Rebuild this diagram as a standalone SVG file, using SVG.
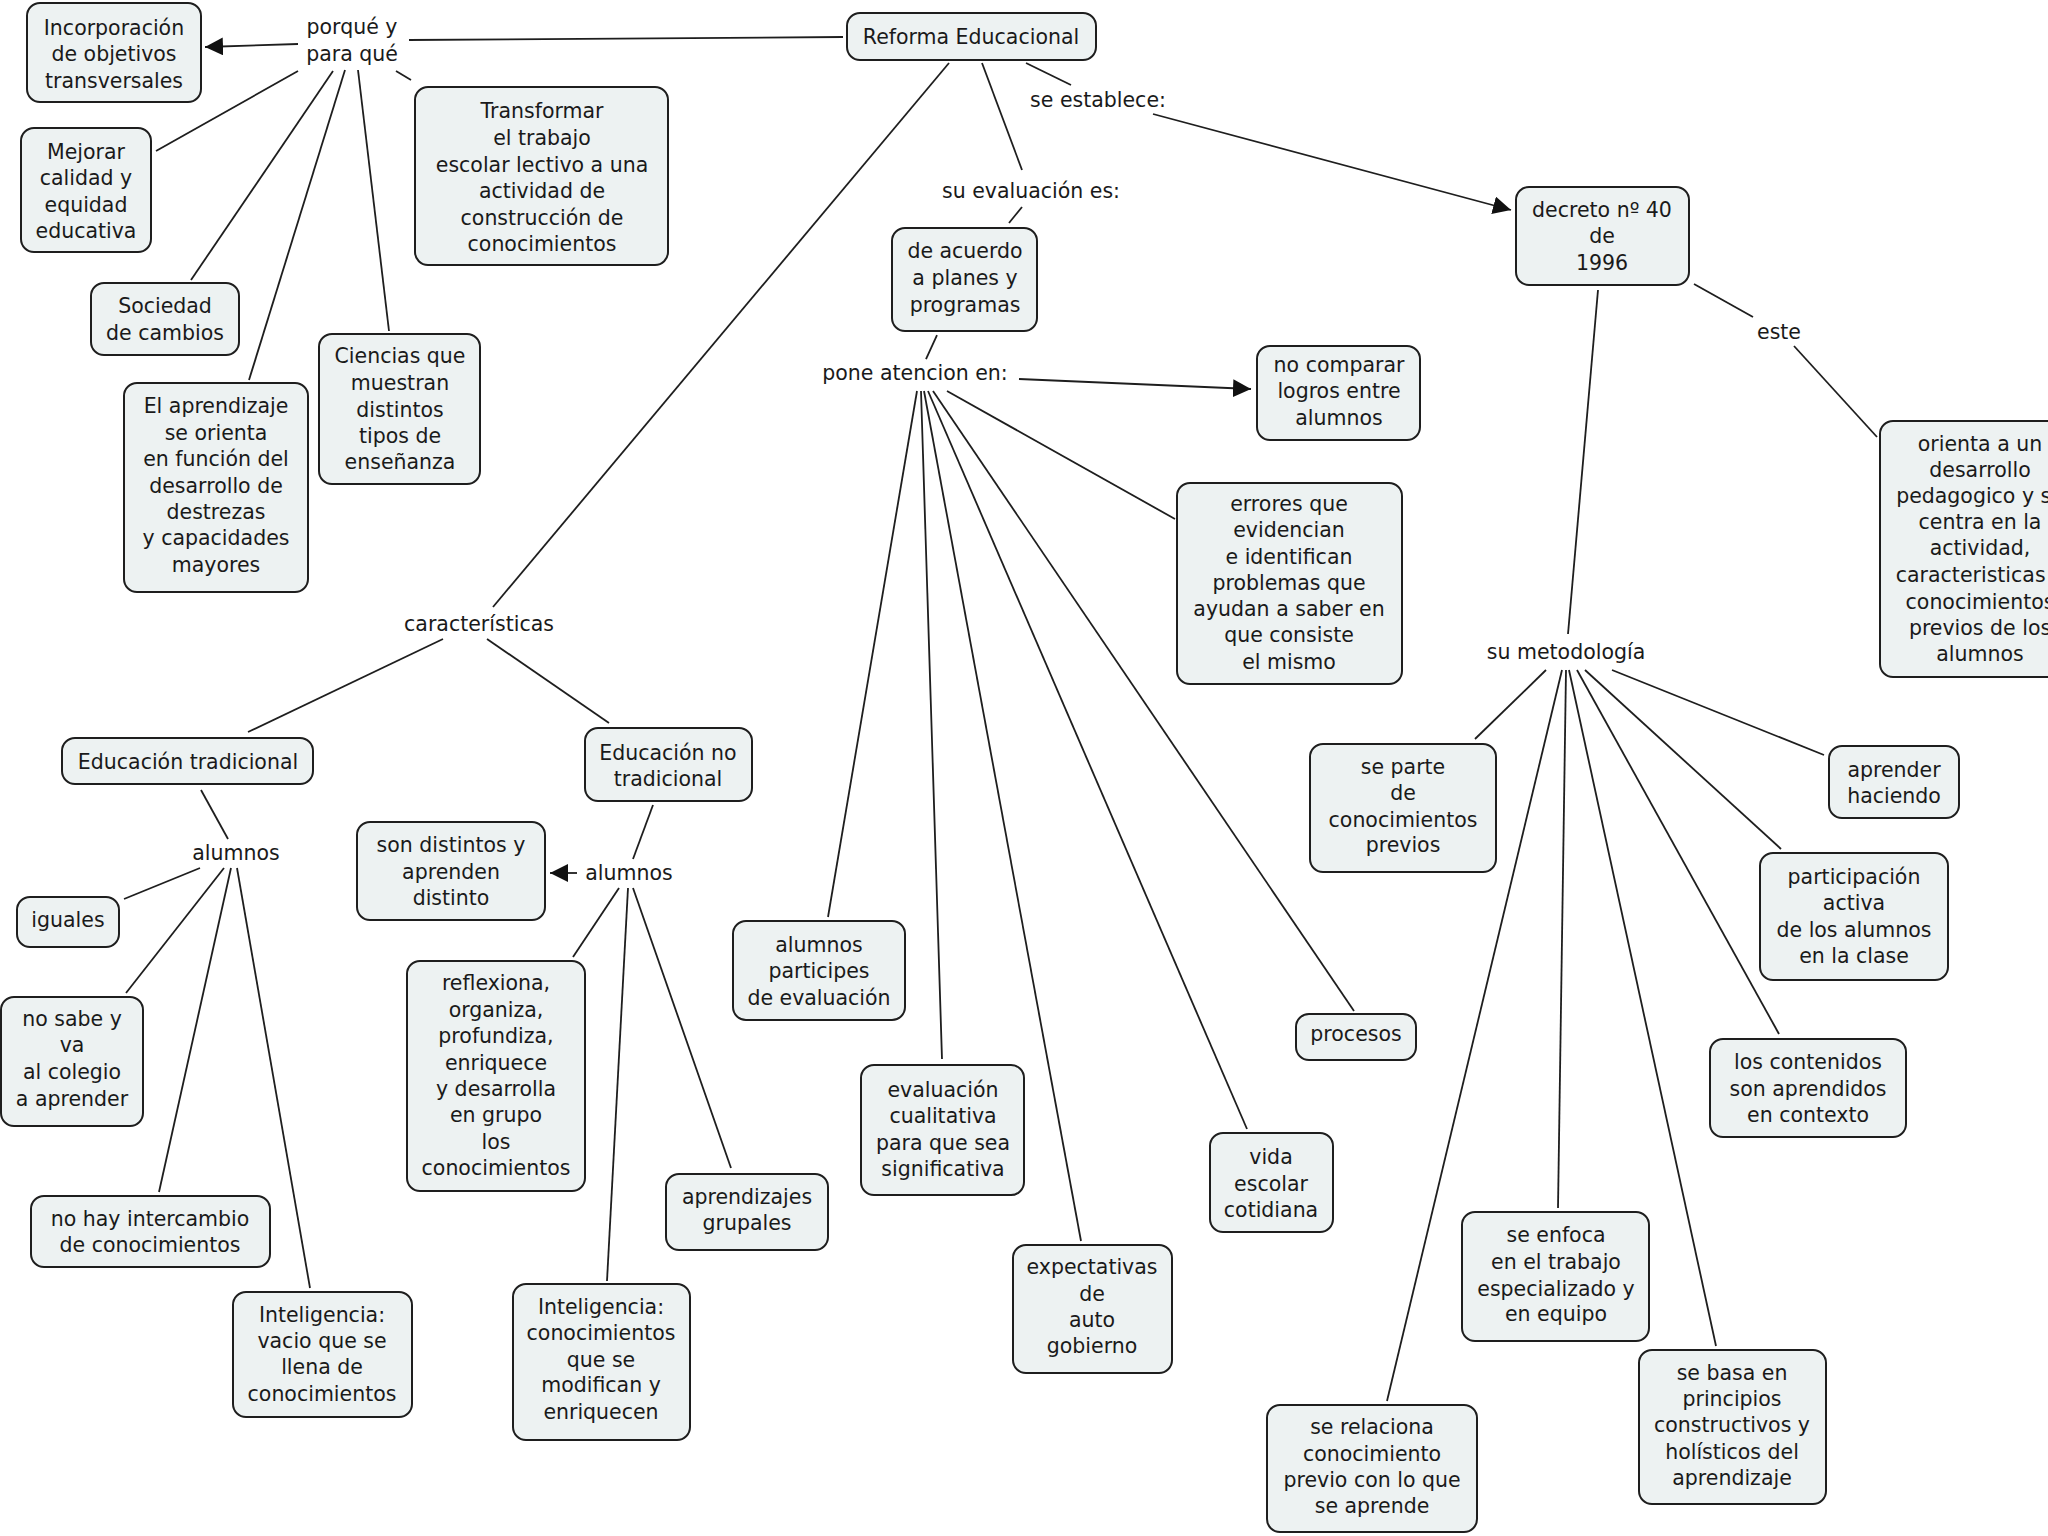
<svg xmlns="http://www.w3.org/2000/svg" width="2048" height="1536" viewBox="0 0 2048 1536">
<style>
.n rect{fill:#edf2f2;stroke:#1e1e1e;stroke-width:2}
text{font-family:"DejaVu Sans","Liberation Sans",sans-serif;font-size:20.5px;fill:#1a1a1a;text-anchor:middle}
.c line{stroke:#1e1e1e;stroke-width:1.8}
</style>
<defs>
<marker id="ah" markerUnits="userSpaceOnUse" markerWidth="18" markerHeight="18" refX="18" refY="9" orient="auto"><path d="M0,0 L18,9 L0,18 z" fill="#111"/></marker>
</defs>
<rect width="2048" height="1536" fill="#fff"/>
<g class="c" id="connectors">
<line x1="843" y1="37" x2="409" y2="40"/>
<line x1="298" y1="44" x2="205" y2="47" marker-end="url(#ah)"/>
<line x1="298" y1="71" x2="156" y2="151"/>
<line x1="333" y1="71" x2="191" y2="280"/>
<line x1="345" y1="70" x2="249" y2="380"/>
<line x1="358" y1="70" x2="389" y2="331"/>
<line x1="396" y1="71" x2="411" y2="80"/>
<line x1="949" y1="63" x2="493" y2="607"/>
<line x1="982" y1="63" x2="1022" y2="170"/>
<line x1="1026" y1="63" x2="1071" y2="85"/>
<line x1="1153" y1="114" x2="1511" y2="210" marker-end="url(#ah)"/>
<line x1="1022" y1="207" x2="1009" y2="223"/>
<line x1="937" y1="335" x2="926" y2="359"/>
<line x1="1019" y1="379" x2="1251" y2="389" marker-end="url(#ah)"/>
<line x1="947" y1="391" x2="1175" y2="519"/>
<line x1="917" y1="391" x2="828" y2="917"/>
<line x1="921" y1="391" x2="942" y2="1059"/>
<line x1="924" y1="391" x2="1081" y2="1241"/>
<line x1="928" y1="391" x2="1247" y2="1129"/>
<line x1="933" y1="391" x2="1354" y2="1011"/>
<line x1="1598" y1="290" x2="1568" y2="634"/>
<line x1="1694" y1="284" x2="1753" y2="317"/>
<line x1="1794" y1="346" x2="1877" y2="437"/>
<line x1="1546" y1="670" x2="1475" y2="739"/>
<line x1="1612" y1="670" x2="1824" y2="755"/>
<line x1="1585" y1="670" x2="1781" y2="849"/>
<line x1="1577" y1="670" x2="1779" y2="1034"/>
<line x1="1569" y1="670" x2="1716" y2="1346"/>
<line x1="1566" y1="670" x2="1558" y2="1208"/>
<line x1="1562" y1="670" x2="1387" y2="1401"/>
<line x1="443" y1="639" x2="248" y2="732"/>
<line x1="487" y1="639" x2="609" y2="723"/>
<line x1="201" y1="790" x2="228" y2="839"/>
<line x1="200" y1="868" x2="124" y2="899"/>
<line x1="224" y1="868" x2="126" y2="993"/>
<line x1="231" y1="868" x2="159" y2="1192"/>
<line x1="237" y1="868" x2="310" y2="1288"/>
<line x1="653" y1="805" x2="633" y2="859"/>
<line x1="577" y1="873" x2="550" y2="873" marker-end="url(#ah)"/>
<line x1="619" y1="888" x2="573" y2="957"/>
<line x1="628" y1="888" x2="607" y2="1281"/>
<line x1="633" y1="888" x2="731" y2="1168"/>
</g>
<g id="lbl-porque"><text><tspan x="352" y="34">porqué y</tspan><tspan x="352" y="61">para qué</tspan></text></g>
<g id="lbl-seestablece"><text x="1098" y="107">se establece:</text></g>
<g id="lbl-evaluacion"><text x="1031" y="198">su evaluación es:</text></g>
<g id="lbl-pone"><text x="915" y="380">pone atencion en:</text></g>
<g id="lbl-este"><text x="1779" y="339">este</text></g>
<g id="lbl-metodologia"><text x="1566" y="659">su metodología</text></g>
<g id="lbl-caracteristicas"><text x="479" y="631">características</text></g>
<g id="lbl-alumnos1"><text x="236" y="860">alumnos</text></g>
<g id="lbl-alumnos2"><text x="629" y="880">alumnos</text></g>

<g class="n" id="n-incorporacion"><rect x="27" y="3" width="174" height="99" rx="13"/><text><tspan x="114" y="35">Incorporación</tspan><tspan x="114" y="61">de objetivos</tspan><tspan x="114" y="88">transversales</tspan></text></g>
<g class="n" id="n-reforma"><rect x="847" y="13" width="249" height="47" rx="13"/><text x="971" y="44">Reforma Educacional</text></g>
<g class="n" id="n-mejorar"><rect x="21" y="128" width="130" height="124" rx="13"/><text><tspan x="86" y="159">Mejorar</tspan><tspan x="86" y="185">calidad y</tspan><tspan x="86" y="212">equidad</tspan><tspan x="86" y="238">educativa</tspan></text></g>
<g class="n" id="n-sociedad"><rect x="91" y="283" width="148" height="72" rx="13"/><text><tspan x="165" y="313">Sociedad</tspan><tspan x="165" y="340">de cambios</tspan></text></g>
<g class="n" id="n-ciencias"><rect x="319" y="334" width="161" height="150" rx="13"/><text><tspan x="400" y="363">Ciencias que</tspan><tspan x="400" y="390">muestran</tspan><tspan x="400" y="417">distintos</tspan><tspan x="400" y="443">tipos de</tspan><tspan x="400" y="469">enseñanza</tspan></text></g>
<g class="n" id="n-aprendizaje"><rect x="124" y="383" width="184" height="209" rx="13"/><text><tspan x="216" y="413">El aprendizaje</tspan><tspan x="216" y="440">se orienta</tspan><tspan x="216" y="466">en función del</tspan><tspan x="216" y="493">desarrollo de</tspan><tspan x="216" y="519">destrezas</tspan><tspan x="216" y="545">y capacidades</tspan><tspan x="216" y="572">mayores</tspan></text></g>
<g class="n" id="n-transformar"><rect x="415" y="87" width="253" height="178" rx="13"/><text><tspan x="542" y="118">Transformar</tspan><tspan x="542" y="145">el trabajo</tspan><tspan x="542" y="172">escolar lectivo a una</tspan><tspan x="542" y="198">actividad de</tspan><tspan x="542" y="225">construcción de</tspan><tspan x="542" y="251">conocimientos</tspan></text></g>
<g class="n" id="n-deacuerdo"><rect x="892" y="228" width="145" height="103" rx="13"/><text><tspan x="965" y="258">de acuerdo</tspan><tspan x="965" y="285">a planes y</tspan><tspan x="965" y="312">programas</tspan></text></g>
<g class="n" id="n-nocomparar"><rect x="1257" y="346" width="163" height="94" rx="13"/><text><tspan x="1339" y="372">no comparar</tspan><tspan x="1339" y="398">logros entre</tspan><tspan x="1339" y="425">alumnos</tspan></text></g>
<g class="n" id="n-errores"><rect x="1177" y="483" width="225" height="201" rx="13"/><text><tspan x="1289" y="511">errores que</tspan><tspan x="1289" y="537">evidencian</tspan><tspan x="1289" y="564">e identifican</tspan><tspan x="1289" y="590">problemas que</tspan><tspan x="1289" y="616">ayudan a saber en</tspan><tspan x="1289" y="642">que consiste</tspan><tspan x="1289" y="669">el mismo</tspan></text></g>
<g class="n" id="n-decreto"><rect x="1516" y="187" width="173" height="98" rx="13"/><text><tspan x="1602" y="217">decreto nº 40</tspan><tspan x="1602" y="243">de</tspan><tspan x="1602" y="270">1996</tspan></text></g>
<g class="n" id="n-orienta"><rect x="1880" y="421" width="200" height="256" rx="13"/><text><tspan x="1980" y="451">orienta a un</tspan><tspan x="1980" y="477">desarrollo</tspan><tspan x="1980" y="503">pedagogico y se</tspan><tspan x="1980" y="529">centra en la</tspan><tspan x="1980" y="555">actividad,</tspan><tspan x="1980" y="582">caracteristicas y</tspan><tspan x="1980" y="609">conocimientos</tspan><tspan x="1980" y="635">previos de los</tspan><tspan x="1980" y="661">alumnos</tspan></text></g>
<g class="n" id="n-separte"><rect x="1310" y="744" width="186" height="128" rx="13"/><text><tspan x="1403" y="774">se parte</tspan><tspan x="1403" y="800">de</tspan><tspan x="1403" y="827">conocimientos</tspan><tspan x="1403" y="852">previos</tspan></text></g>
<g class="n" id="n-aprender"><rect x="1829" y="746" width="130" height="72" rx="13"/><text><tspan x="1894" y="777">aprender</tspan><tspan x="1894" y="803">haciendo</tspan></text></g>
<g class="n" id="n-participacion"><rect x="1760" y="853" width="188" height="127" rx="13"/><text><tspan x="1854" y="884">participación</tspan><tspan x="1854" y="910">activa</tspan><tspan x="1854" y="937">de los alumnos</tspan><tspan x="1854" y="963">en la clase</tspan></text></g>
<g class="n" id="n-contenidos"><rect x="1710" y="1039" width="196" height="98" rx="13"/><text><tspan x="1808" y="1069">los contenidos</tspan><tspan x="1808" y="1096">son aprendidos</tspan><tspan x="1808" y="1122">en contexto</tspan></text></g>
<g class="n" id="n-enfoca"><rect x="1462" y="1212" width="187" height="129" rx="13"/><text><tspan x="1556" y="1242">se enfoca</tspan><tspan x="1556" y="1269">en el trabajo</tspan><tspan x="1556" y="1296">especializado y</tspan><tspan x="1556" y="1321">en equipo</tspan></text></g>
<g class="n" id="n-basa"><rect x="1639" y="1350" width="187" height="154" rx="13"/><text><tspan x="1732" y="1380">se basa en</tspan><tspan x="1732" y="1406">principios</tspan><tspan x="1732" y="1432">constructivos y</tspan><tspan x="1732" y="1459">holísticos del</tspan><tspan x="1732" y="1485">aprendizaje</tspan></text></g>
<g class="n" id="n-relaciona"><rect x="1267" y="1405" width="210" height="127" rx="13"/><text><tspan x="1372" y="1434">se relaciona</tspan><tspan x="1372" y="1461">conocimiento</tspan><tspan x="1372" y="1487">previo con lo que</tspan><tspan x="1372" y="1513">se aprende</tspan></text></g>
<g class="n" id="n-participes"><rect x="733" y="921" width="172" height="99" rx="13"/><text><tspan x="819" y="952">alumnos</tspan><tspan x="819" y="978">participes</tspan><tspan x="819" y="1005">de evaluación</tspan></text></g>
<g class="n" id="n-cualitativa"><rect x="861" y="1065" width="163" height="130" rx="13"/><text><tspan x="943" y="1097">evaluación</tspan><tspan x="943" y="1123">cualitativa</tspan><tspan x="943" y="1150">para que sea</tspan><tspan x="943" y="1176">significativa</tspan></text></g>
<g class="n" id="n-expectativas"><rect x="1013" y="1245" width="159" height="128" rx="13"/><text><tspan x="1092" y="1274">expectativas</tspan><tspan x="1092" y="1301">de</tspan><tspan x="1092" y="1327">auto</tspan><tspan x="1092" y="1353">gobierno</tspan></text></g>
<g class="n" id="n-vida"><rect x="1210" y="1133" width="123" height="99" rx="13"/><text><tspan x="1271" y="1164">vida</tspan><tspan x="1271" y="1191">escolar</tspan><tspan x="1271" y="1217">cotidiana</tspan></text></g>
<g class="n" id="n-procesos"><rect x="1296" y="1014" width="120" height="46" rx="13"/><text x="1356" y="1041">procesos</text></g>
<g class="n" id="n-edtradicional"><rect x="62" y="738" width="251" height="46" rx="13"/><text x="188" y="769">Educación tradicional</text></g>
<g class="n" id="n-iguales"><rect x="17" y="897" width="102" height="50" rx="13"/><text x="68" y="927">iguales</text></g>
<g class="n" id="n-nosabe"><rect x="1" y="997" width="142" height="129" rx="13"/><text><tspan x="72" y="1026">no sabe y</tspan><tspan x="72" y="1052">va</tspan><tspan x="72" y="1079">al colegio</tspan><tspan x="72" y="1106">a aprender</tspan></text></g>
<g class="n" id="n-nohay"><rect x="31" y="1196" width="239" height="71" rx="13"/><text><tspan x="150" y="1226">no hay intercambio</tspan><tspan x="150" y="1252">de conocimientos</tspan></text></g>
<g class="n" id="n-intvacio"><rect x="233" y="1292" width="179" height="125" rx="13"/><text><tspan x="322" y="1322">Inteligencia:</tspan><tspan x="322" y="1348">vacio que se</tspan><tspan x="322" y="1374">llena de</tspan><tspan x="322" y="1401">conocimientos</tspan></text></g>
<g class="n" id="n-ednotradicional"><rect x="585" y="728" width="167" height="73" rx="13"/><text><tspan x="668" y="760">Educación no</tspan><tspan x="668" y="786">tradicional</tspan></text></g>
<g class="n" id="n-sondistintos"><rect x="357" y="822" width="188" height="98" rx="13"/><text><tspan x="451" y="852">son distintos y</tspan><tspan x="451" y="879">aprenden</tspan><tspan x="451" y="905">distinto</tspan></text></g>
<g class="n" id="n-reflexiona"><rect x="407" y="961" width="178" height="230" rx="13"/><text><tspan x="496" y="990">reflexiona,</tspan><tspan x="496" y="1017">organiza,</tspan><tspan x="496" y="1043">profundiza,</tspan><tspan x="496" y="1070">enriquece</tspan><tspan x="496" y="1096">y desarrolla</tspan><tspan x="496" y="1122">en grupo</tspan><tspan x="496" y="1149">los</tspan><tspan x="496" y="1175">conocimientos</tspan></text></g>
<g class="n" id="n-intconoc"><rect x="513" y="1284" width="177" height="156" rx="13"/><text><tspan x="601" y="1314">Inteligencia:</tspan><tspan x="601" y="1340">conocimientos</tspan><tspan x="601" y="1367">que se</tspan><tspan x="601" y="1392">modifican y</tspan><tspan x="601" y="1419">enriquecen</tspan></text></g>
<g class="n" id="n-grupales"><rect x="666" y="1174" width="162" height="76" rx="13"/><text><tspan x="747" y="1204">aprendizajes</tspan><tspan x="747" y="1230">grupales</tspan></text></g>
</svg>
